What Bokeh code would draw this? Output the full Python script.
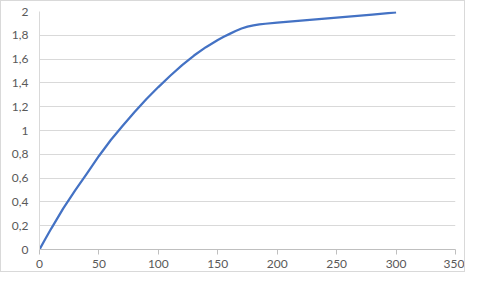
from bokeh.plotting import figure
from bokeh.models import Range1d, FixedTicker
from bokeh.embed import file_html
from bokeh.resources import INLINE

x_vals = [0, 5, 10, 20, 30, 40, 50, 60, 70, 80, 90, 100, 110, 120, 130, 140, 150,
          155, 160, 165, 170, 175, 180, 185, 190, 200, 220, 240, 260, 280, 300]
y_vals = [0, 0.09, 0.178, 0.345, 0.497, 0.64, 0.786, 0.92, 1.04, 1.155, 1.265, 1.365,
          1.46, 1.55, 1.63, 1.70, 1.76, 1.787, 1.812, 1.836, 1.857, 1.873, 1.884,
          1.891, 1.897, 1.907, 1.924, 1.94, 1.957, 1.974, 1.993]
x_ticks = [0, 50, 100, 150, 200, 250, 300, 350]
y_ticks = [0, 0.2, 0.4, 0.6, 0.8, 1.0, 1.2, 1.4, 1.6, 1.8, 2.0]
y_labels = ["0", "0,2", "0,4", "0,6", "0,8", "1", "1,2", "1,4", "1,6", "1,8", "2"]

p = figure(width=465, height=272, output_backend="svg", toolbar_location=None,
           x_range=Range1d(0, 350), y_range=Range1d(0, 2),
           min_border_left=38, min_border_right=11, min_border_top=10,
           min_border_bottom=24)
p.styles = {"border": "1px solid #D9D9D9"}
p.outline_line_color = None
p.background_fill_color = "white"
p.border_fill_color = "white"

p.line(x_vals, y_vals, line_color="#4472C4", line_width=2.25, line_join="round")

font = "Lato"
p.xaxis.ticker = FixedTicker(ticks=x_ticks)
p.yaxis.ticker = FixedTicker(ticks=y_ticks)
p.yaxis.major_label_overrides = {t: l for t, l in zip(y_ticks, y_labels)}
for ax in (p.xaxis, p.yaxis):
    ax.major_label_text_font = font
    ax.major_label_text_font_size = "12px"
    ax.major_label_text_color = "#595959"
    ax.minor_tick_line_color = None
    ax.major_tick_in = 0
p.xaxis.axis_line_color = "#BFBFBF"
p.xaxis.major_tick_line_color = "#BFBFBF"
p.xaxis.major_tick_out = 5
p.xaxis.major_label_standoff = 5
p.yaxis.axis_line_color = "#D9D9D9"
p.yaxis.major_tick_line_color = None
p.yaxis.major_tick_out = 0
p.yaxis.major_label_standoff = 11

p.xgrid.grid_line_color = None
p.ygrid.grid_line_color = "#D9D9D9"
p.ygrid.grid_line_width = 1

open("out.html", "w").write(file_html(p, INLINE))
